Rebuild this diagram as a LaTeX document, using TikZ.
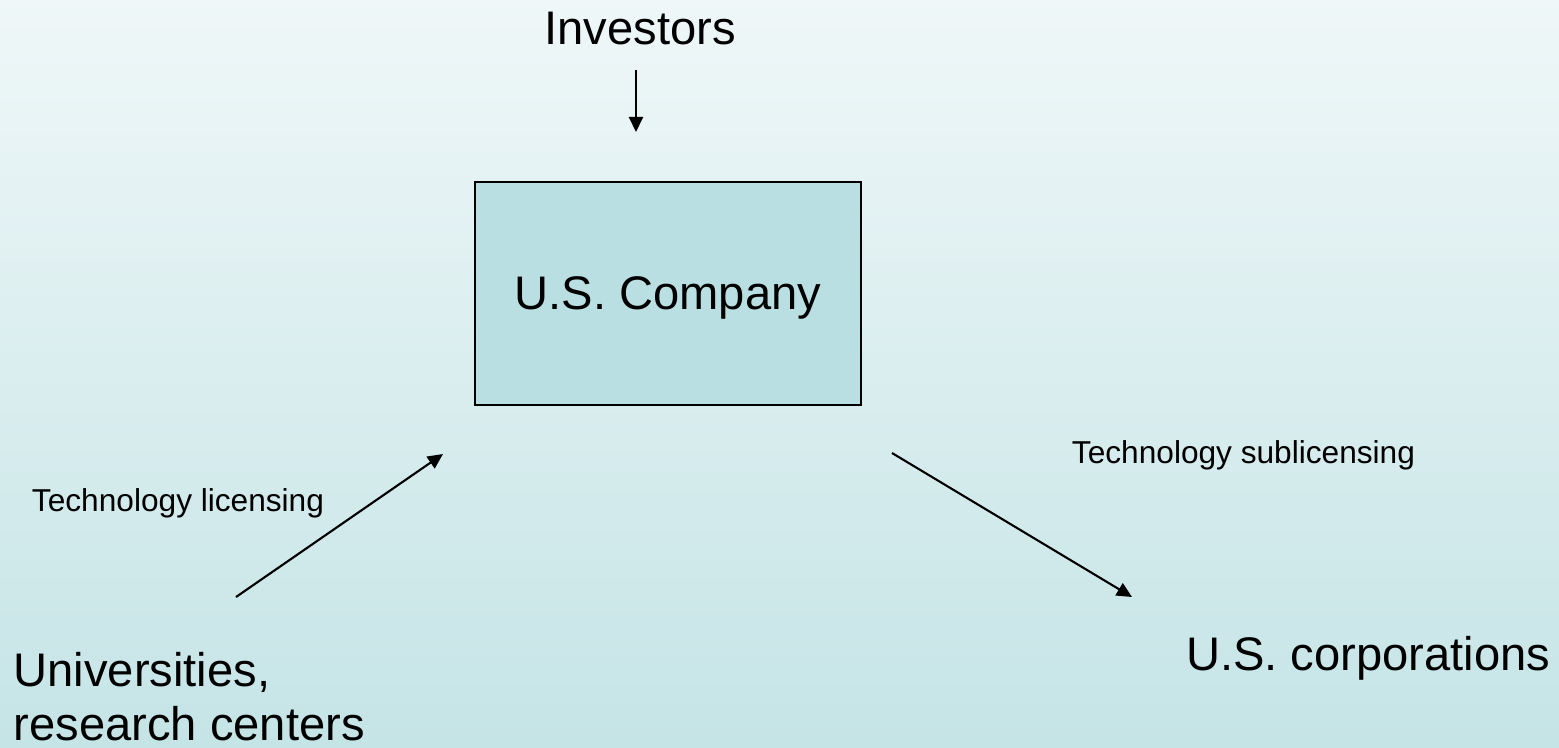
\documentclass[tikz,border=0pt]{standalone}
\usepackage{fontspec}
\setmainfont{Liberation Sans}
\usetikzlibrary{arrows.meta}
\definecolor{bgtop}{HTML}{EFF7F8}
\definecolor{bgbottom}{HTML}{C5E4E6}
\definecolor{boxfill}{HTML}{BADFE2}

\begin{document}
\begin{tikzpicture}[x=0.01cm,y=-0.01cm,
    bigtext/.style={font=\fontsize{13.4pt}{15.1pt}\selectfont, inner sep=0pt},
    smalltext/.style={font=\fontsize{9pt}{10pt}\selectfont, inner sep=0pt},
    flow/.style={-{Triangle[length=4.3pt,width=4pt]}, line width=0.6pt}]
                \shade [top color=bgtop, bottom color=bgbottom] (0,0) rectangle (1559,747);
                \useasboundingbox (0,0) rectangle (1559,747);
                % parties
                \node [bigtext, anchor=base] (inv) at (640,44) {Investors};
                \node [bigtext, draw, line width=0.6pt, fill=boxfill, text depth=0pt,
                       minimum width=3.86cm, minimum height=2.23cm] (co) at (668,293.5) {U.S. Company};
                \node [bigtext, anchor=base west, align=left] (uni) at (13,740) {Universities,\\research centers};
                \node [bigtext, anchor=base east] (corp) at (1551,670) {U.S. corporations};
                % arrow ends
                \coordinate (inv-a) at (636,70);
                \coordinate (inv-b) at (636,132);
                \coordinate (lic-a) at (236,597);
                \coordinate (lic-b) at (443,454);
                \coordinate (sub-a) at (892,453);
                \coordinate (sub-b) at (1132,597);
                \draw [flow] (inv-a) -- (inv-b);
                \draw [flow] (lic-a) -- (lic-b);
                \draw [flow] (sub-a) -- (sub-b);
                % labels
                \node [smalltext, anchor=base] (lic) at (178,511) {Technology licensing};
                \node [smalltext, anchor=base] (sub) at (1243.5,463) {Technology sublicensing};
\end{tikzpicture}
\end{document}
